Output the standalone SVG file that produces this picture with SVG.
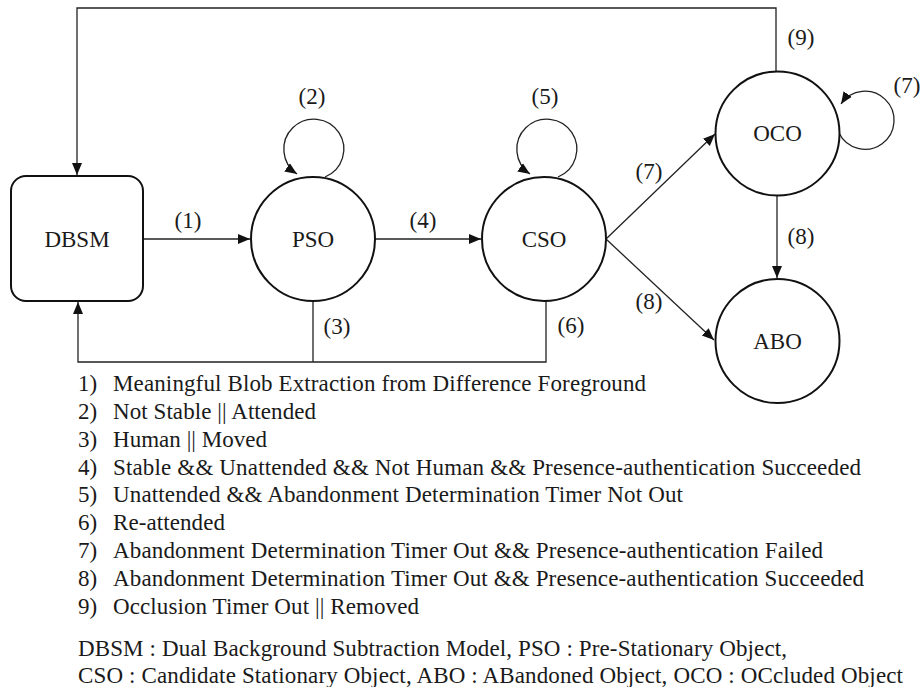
<svg xmlns="http://www.w3.org/2000/svg" width="920" height="687" viewBox="0 0 920 687">
<defs>
<marker id="ah" markerUnits="userSpaceOnUse" markerWidth="12" markerHeight="12" viewBox="0 0 12 12" refX="12" refY="6" orient="auto">
<path d="M0,1 L12,6 L0,11 Z" fill="#111"/>
</marker>
<style>
.n{text-anchor:middle}
.node{fill:#fff;stroke:#111;stroke-width:2}
.c{fill:none;stroke:#222;stroke-width:1.3}
</style>
</defs>
<rect width="920" height="687" fill="#fff"/>
<g font-family="Liberation Serif, DejaVu Serif, serif" font-size="23" fill="#1a1a1a">
<g id="connectors">
<path class="c" d="M776,71 V8 H77 V175" marker-end="url(#ah)"/>
<path class="c" d="M143,239 H250" marker-end="url(#ah)"/>
<path class="c" d="M375,239 H481" marker-end="url(#ah)"/>
<path class="c" d="M313,301 V362 M546,301 V362 H78 V302" marker-end="url(#ah)"/>
<path class="c" d="M325,177 A30,30 0 1 0 297,174" marker-end="url(#ah)"/>
<path class="c" d="M558,177 A30,30 0 1 0 530,174" marker-end="url(#ah)"/>
<path class="c" d="M839,133 A29,29 0 1 0 841,104" marker-end="url(#ah)"/>
<path class="c" d="M606,239 L715,134" marker-end="url(#ah)"/>
<path class="c" d="M606,239 L714,340" marker-end="url(#ah)"/>
<path class="c" d="M777,196 V278" marker-end="url(#ah)"/>
<text class="n" x="188" y="228">(1)</text>
<text class="n" x="312" y="104">(2)</text>
<text class="n" x="337" y="334">(3)</text>
<text class="n" x="423" y="228">(4)</text>
<text class="n" x="545" y="104">(5)</text>
<text class="n" x="571" y="333">(6)</text>
<text class="n" x="649" y="179">(7)</text>
<text class="n" x="649" y="309">(8)</text>
<text class="n" x="801" y="45">(9)</text>
<text class="n" x="907" y="93">(7)</text>
<text class="n" x="801" y="244">(8)</text>
</g>
<g id="DBSM">
<rect class="node" x="11" y="176" width="132" height="125" rx="15"/>
<text class="n" x="77" y="247">DBSM</text>
</g>
<g id="PSO">
<circle class="node" cx="313" cy="239" r="62"/>
<text class="n" x="313" y="247">PSO</text>
</g>
<g id="CSO">
<circle class="node" cx="544" cy="239" r="62"/>
<text class="n" x="544" y="247">CSO</text>
</g>
<g id="OCO">
<circle class="node" cx="777.5" cy="133.5" r="62"/>
<text class="n" x="777.5" y="141">OCO</text>
</g>
<g id="ABO">
<circle class="node" cx="777.5" cy="341" r="62"/>
<text class="n" x="777.5" y="349">ABO</text>
</g>
<g id="legend">
<text x="78" y="391">1)</text><text x="113" y="391" textLength="533" lengthAdjust="spacing">Meaningful Blob Extraction from Difference Foreground</text>
<text x="78" y="419">2)</text><text x="113" y="419" textLength="203" lengthAdjust="spacing">Not Stable || Attended</text>
<text x="78" y="447">3)</text><text x="113" y="447" textLength="154" lengthAdjust="spacing">Human || Moved</text>
<text x="78" y="475">4)</text><text x="113" y="475" textLength="748" lengthAdjust="spacing">Stable &amp;&amp; Unattended &amp;&amp; Not Human &amp;&amp; Presence-authentication Succeeded</text>
<text x="78" y="502">5)</text><text x="113" y="502" textLength="570" lengthAdjust="spacing">Unattended &amp;&amp; Abandonment Determination Timer Not Out</text>
<text x="78" y="530">6)</text><text x="113" y="530" textLength="112" lengthAdjust="spacing">Re-attended</text>
<text x="78" y="558">7)</text><text x="113" y="558" textLength="710" lengthAdjust="spacing">Abandonment Determination Timer Out &amp;&amp; Presence-authentication Failed</text>
<text x="78" y="586">8)</text><text x="113" y="586" textLength="751" lengthAdjust="spacing">Abandonment Determination Timer Out &amp;&amp; Presence-authentication Succeeded</text>
<text x="78" y="614">9)</text><text x="113" y="614" textLength="306" lengthAdjust="spacing">Occlusion Timer Out || Removed</text>
<text x="78" y="656" textLength="709" lengthAdjust="spacing">DBSM : Dual Background Subtraction Model, PSO : Pre-Stationary Object,</text>
<text x="78" y="683" textLength="825" lengthAdjust="spacing">CSO : Candidate Stationary Object, ABO : ABandoned Object, OCO : OCcluded Object</text>
</g>
</g>
</svg>
